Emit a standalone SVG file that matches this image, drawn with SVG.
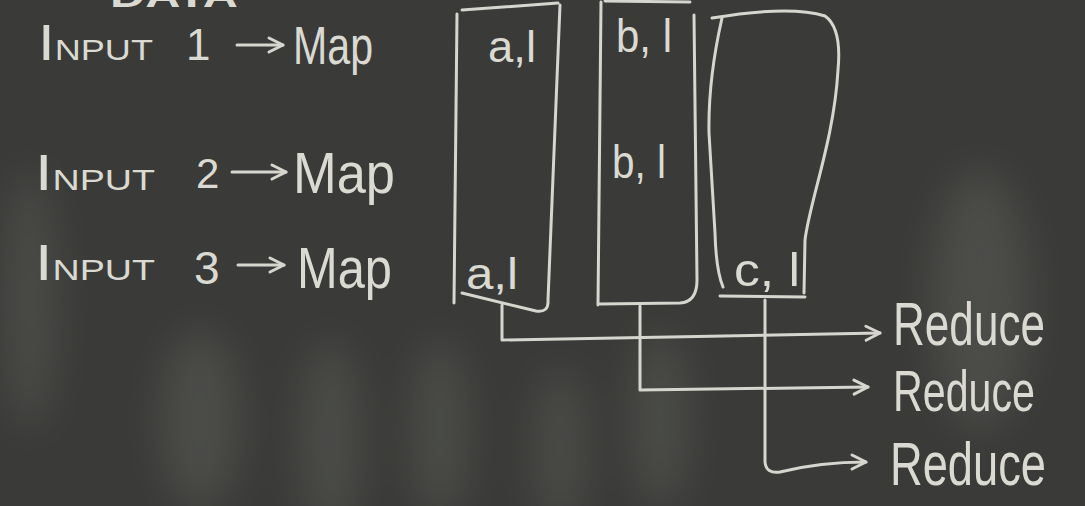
<svg xmlns="http://www.w3.org/2000/svg" width="1085" height="506" viewBox="0 0 1085 506">
<defs>
<style>
.chalk{fill:none;stroke:#d6d6cf;stroke-width:3;stroke-linecap:round;stroke-linejoin:round}
.t{font-family:"Liberation Sans","DejaVu Sans",sans-serif;fill:#dadad2}
</style>
<marker id="arr" viewBox="0 0 20 20" refX="17" refY="10" markerWidth="20" markerHeight="20" markerUnits="userSpaceOnUse" orient="auto">
<path d="M3,3 L17,10 L3,17" fill="none" stroke="#d6d6cf" stroke-width="3" stroke-linecap="round" stroke-linejoin="round"/>
</marker>
<filter id="blur" x="-50%" y="-50%" width="200%" height="200%"><feGaussianBlur stdDeviation="20"/></filter>
</defs>
<rect width="1085" height="506" fill="#3a3b38"/>
<g id="smudges" filter="url(#blur)" fill="#8a8c86" opacity="0.22">
<ellipse cx="330" cy="440" rx="30" ry="100"/>
<ellipse cx="440" cy="430" rx="28" ry="90"/>
<ellipse cx="560" cy="450" rx="25" ry="80"/>
<ellipse cx="660" cy="420" rx="28" ry="90"/>
<ellipse cx="200" cy="420" rx="40" ry="90"/>
<ellipse cx="980" cy="300" rx="50" ry="130"/>
<ellipse cx="30" cy="300" rx="25" ry="130"/>
</g>
<g id="title"><text class="t" x="110" y="7" font-size="34" font-weight="bold" textLength="128" lengthAdjust="spacingAndGlyphs">DATA</text></g>
<g id="input1">
<text class="t" x="38" y="60" font-size="30" textLength="115" lengthAdjust="spacingAndGlyphs"><tspan font-size="50">I</tspan>NPUT</text>
<text class="t" x="186" y="60" font-size="44">1</text>
</g>
<g id="map1"><text class="t" x="293" y="64" font-size="54" textLength="80" lengthAdjust="spacingAndGlyphs">Map</text></g>
<g id="input2">
<text class="t" x="35" y="190" font-size="30" textLength="120" lengthAdjust="spacingAndGlyphs"><tspan font-size="50">I</tspan>NPUT</text>
<text class="t" x="196" y="188" font-size="42">2</text>
</g>
<g id="map2"><text class="t" x="293" y="193" font-size="58" textLength="102" lengthAdjust="spacingAndGlyphs">Map</text></g>
<g id="input3">
<text class="t" x="35" y="280" font-size="30" textLength="120" lengthAdjust="spacingAndGlyphs"><tspan font-size="50">I</tspan>NPUT</text>
<text class="t" x="194" y="284" font-size="46">3</text>
</g>
<g id="map3"><text class="t" x="297" y="288" font-size="58" textLength="95" lengthAdjust="spacingAndGlyphs">Map</text></g>
<g id="boxA">
<path class="chalk" d="M457,14 L454,303 M462,10 L558,3 M560,5 L548,300 Q549,313 536,311 L462,293"/>
<text class="t" x="488" y="62" font-size="44" textLength="48" lengthAdjust="spacingAndGlyphs">a,l</text>
<text class="t" x="466" y="289" font-size="44" textLength="52" lengthAdjust="spacingAndGlyphs">a,l</text>
</g>
<g id="boxB">
<path class="chalk" d="M601,2 L598,305 M605,1 L690,2 M694,15 L697,280 Q697,302 680,303 L600,304"/>
<text class="t" x="616" y="52" font-size="46" textLength="56" lengthAdjust="spacingAndGlyphs">b, l</text>
<text class="t" x="612" y="178" font-size="46" textLength="54" lengthAdjust="spacingAndGlyphs">b, l</text>
</g>
<g id="boxC">
<path class="chalk" d="M712,18 Q790,5 825,16 Q842,28 838,70 C834,140 810,200 805,240 L804,293 M722,18 Q708,80 709,133 L715,233 Q716,270 723,287 M720,296 L805,297"/>
<text class="t" x="734" y="286" font-size="46" textLength="66" lengthAdjust="spacingAndGlyphs">c, l</text>
</g>
<g id="connectors">
<path class="chalk" d="M502,305 L502,340 L880,333" marker-end="url(#arr)"/>
<path class="chalk" d="M640,306 L640,390 L868,387" marker-end="url(#arr)"/>
<path class="chalk" d="M765,300 L765,462 Q766,474 780,472 Q820,462 866,462" marker-end="url(#arr)"/>
<path class="chalk" d="M237,45 L283,45" marker-end="url(#arr)"/>
<path class="chalk" d="M232,172 L286,172" marker-end="url(#arr)"/>
<path class="chalk" d="M238,265 L284,265" marker-end="url(#arr)"/>
</g>
<g id="reduce1"><text class="t" x="893" y="345" font-size="62" textLength="152" lengthAdjust="spacingAndGlyphs">Reduce</text></g>
<g id="reduce2"><text class="t" x="893" y="411" font-size="58" textLength="142" lengthAdjust="spacingAndGlyphs">Reduce</text></g>
<g id="reduce3"><text class="t" x="890" y="485" font-size="62" textLength="156" lengthAdjust="spacingAndGlyphs">Reduce</text></g>
</svg>
